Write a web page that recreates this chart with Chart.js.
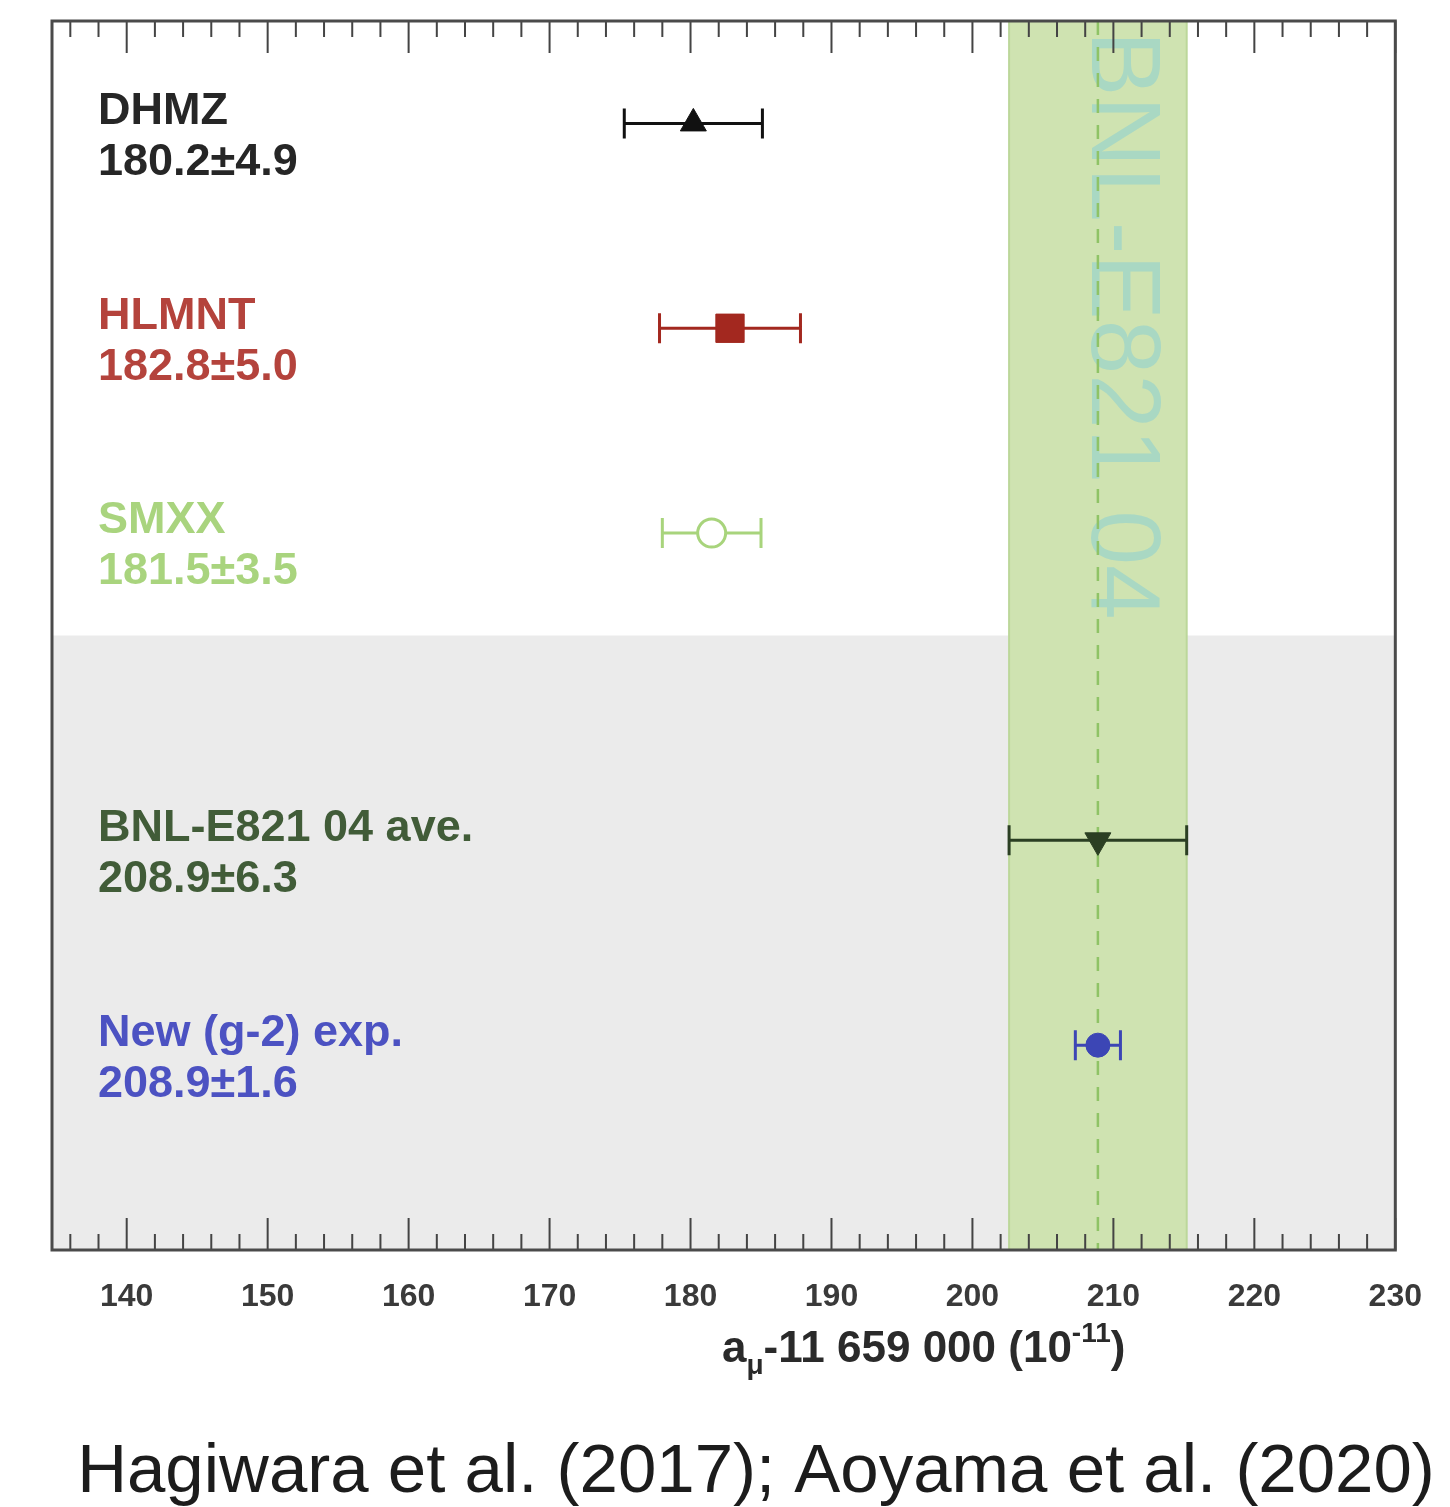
<!DOCTYPE html>
<html>
<head>
<meta charset="utf-8">
<script src="https://cdn.jsdelivr.net/npm/chart.js@4.4.1/dist/chart.umd.min.js"></script>
<style>
  html, body { margin: 0; padding: 0; background: #fff; }
  #wrap { width: 1450px; height: 1507px; position: relative; }
</style>
</head>
<body>
<div id="wrap"><canvas id="g2chart" width="1450" height="1507"></canvas></div>
<script>
// 数据：各组 a_mu 结果
const names = ['DHMZ', 'HLMNT', 'SMXX', 'BNL-E821 04 ave.', 'New (g-2) exp.'];
const valueLabels = ['180.2\u00b14.9', '182.8\u00b15.0', '181.5\u00b13.5', '208.9\u00b16.3', '208.9\u00b11.6'];
const centralValues = [180.2, 182.8, 181.5, 208.9, 208.9];
const errors = [4.9, 5.0, 3.5, 6.3, 1.6];
const rows = [0.5, 1.5, 2.5, 4, 5];
const xTickValues = [140, 150, 160, 170, 180, 190, 200, 210, 220, 230];
const bandCenter = 208.9;
const bandHalfWidth = 6.3;
const grayFrom = 3;

const textColors = ['#262626', '#b4433c', '#a9d47e', '#415c38', '#4c52c2'];
const markColors = ['#111111', '#a3281f', '#a8d47c', '#2b3f23', '#3c46b5'];
const markStyles = ['triangle', 'rect', 'circle', 'triangle', 'circle'];
const markRotation = [0, 0, 0, 180, 0];
const markRadius = [15, 20, 14, 15, 12];
const FONT = '"Liberation Sans", Arial, sans-serif';

const datasets = names.map((n, i) => ({
  label: n,
  data: [{ x: centralValues[i], y: rows[i] }],
  pointStyle: markStyles[i],
  rotation: markRotation[i],
  pointRadius: markRadius[i],
  backgroundColor: i === 2 ? '#ffffff' : markColors[i],
  borderColor: markColors[i],
  borderWidth: i === 2 ? 3 : 1,
  showLine: false
}));

// 背景区域、误差棒、文字
const decor = {
  id: 'decor',
  beforeDatasetsDraw(chart) {
    const { ctx, chartArea: a, scales: { x, y } } = chart;
    ctx.save();
    // 灰色区域
    const gy = y.getPixelForValue(grayFrom);
    ctx.fillStyle = '#ebebeb';
    ctx.fillRect(a.left, gy, a.right - a.left, a.bottom - gy);
    // 绿色带
    const b0 = x.getPixelForValue(bandCenter - bandHalfWidth);
    const b1 = x.getPixelForValue(bandCenter + bandHalfWidth);
    ctx.fillStyle = '#cfe3b1';
    ctx.fillRect(b0, a.top, b1 - b0, a.bottom - a.top);
    ctx.strokeStyle = '#bcd79a';
    ctx.lineWidth = 2;
    ctx.beginPath();
    ctx.moveTo(b0, a.top); ctx.lineTo(b0, a.bottom);
    ctx.moveTo(b1, a.top); ctx.lineTo(b1, a.bottom);
    ctx.stroke();
    // 竖排文字
    const bc = x.getPixelForValue(bandCenter);
    ctx.save();
    ctx.translate(bc - 6, a.top + 10);
    ctx.rotate(Math.PI / 2);
    ctx.fillStyle = '#a9d8c3';
    ctx.font = '98px ' + FONT;
    ctx.textBaseline = 'alphabetic';
    ctx.textAlign = 'left';
    ctx.fillText('BNL-E821 04', 0, 0);
    ctx.restore();
    // 虚线
    ctx.strokeStyle = '#8fc366';
    ctx.lineWidth = 2.5;
    ctx.setLineDash([14, 12]);
    ctx.beginPath();
    ctx.moveTo(bc, a.top);
    ctx.lineTo(bc, a.bottom);
    ctx.stroke();
    ctx.setLineDash([]);
    // 误差棒
    names.forEach((n, i) => {
      const py = y.getPixelForValue(rows[i]);
      const l = x.getPixelForValue(centralValues[i] - errors[i]);
      const r = x.getPixelForValue(centralValues[i] + errors[i]);
      ctx.strokeStyle = markColors[i];
      ctx.lineWidth = 3;
      ctx.beginPath();
      ctx.moveTo(l, py); ctx.lineTo(r, py);
      ctx.moveTo(l, py - 15); ctx.lineTo(l, py + 15);
      ctx.moveTo(r, py - 15); ctx.lineTo(r, py + 15);
      ctx.stroke();
    });
    // 标签
    ctx.font = 'bold 45px ' + FONT;
    ctx.textAlign = 'left';
    ctx.textBaseline = 'middle';
    names.forEach((n, i) => {
      const py = y.getPixelForValue(rows[i]);
      ctx.fillStyle = textColors[i];
      ctx.fillText(n, 98, py - 12);
      ctx.fillText(valueLabels[i], 98, py + 39);
    });
    ctx.restore();
  },
  afterDraw(chart) {
    const { ctx, chartArea: a, scales: { x } } = chart;
    ctx.save();
    // 内向刻度
    ctx.strokeStyle = '#444';
    ctx.lineWidth = 2;
    ctx.beginPath();
    for (let v = 136; v <= 230; v += 2) {
      const px = x.getPixelForValue(v);
      const len = v % 10 === 0 ? 32 : 16;
      ctx.moveTo(px, a.bottom); ctx.lineTo(px, a.bottom - len);
      ctx.moveTo(px, a.top); ctx.lineTo(px, a.top + len);
    }
    ctx.stroke();
    // 边框
    ctx.strokeStyle = '#4a4a4a';
    ctx.lineWidth = 3;
    ctx.strokeRect(a.left, a.top, a.right - a.left, a.bottom - a.top);
    // 轴标题
    ctx.fillStyle = '#2a2a2a';
    ctx.textBaseline = 'alphabetic';
    ctx.textAlign = 'left';
    let tx = 722;
    const ty = 1362;
    ctx.font = 'bold 44px ' + FONT;
    ctx.fillText('a', tx, ty); tx += ctx.measureText('a').width;
    ctx.font = 'bold 28px ' + FONT;
    ctx.fillText('\u03bc', tx, ty + 12); tx += ctx.measureText('\u03bc').width;
    ctx.font = 'bold 44px ' + FONT;
    const mid = '-11 659 000 (10';
    ctx.fillText(mid, tx, ty); tx += ctx.measureText(mid).width;
    ctx.font = 'bold 28px ' + FONT;
    ctx.fillText('-11', tx, ty - 20); tx += ctx.measureText('-11').width;
    ctx.font = 'bold 44px ' + FONT;
    ctx.fillText(')', tx, ty);
    // 出处
    ctx.fillStyle = '#1c1c1c';
    ctx.font = '69px ' + FONT;
    ctx.textAlign = 'center';
    ctx.fillText('Hagiwara et al. (2017); Aoyama et al. (2020)', 756, 1492);
    ctx.restore();
  }
};

new Chart(document.getElementById('g2chart'), {
  type: 'scatter',
  data: { datasets },
  options: {
    responsive: false,
    animation: false,
    layout: { padding: { left: 52, right: 53, top: 20, bottom: 0 } },
    plugins: { legend: { display: false }, tooltip: { enabled: false } },
    scales: {
      x: {
        type: 'linear',
        min: 134.7,
        max: 230,
        grid: { display: false, drawTicks: false },
        border: { display: false },
        afterBuildTicks: s => { s.ticks = xTickValues.map(v => ({ value: v })); },
        afterFit: s => { s.height = 257; },
        ticks: {
          padding: 28,
          color: '#3a3a3a',
          font: { family: FONT, size: 32, weight: 'bold' },
          maxRotation: 0,
          autoSkip: false
        }
      },
      y: { type: 'linear', min: 0, max: 6, reverse: true, display: false }
    }
  },
  plugins: [decor]
});
</script>
</body>
</html>
